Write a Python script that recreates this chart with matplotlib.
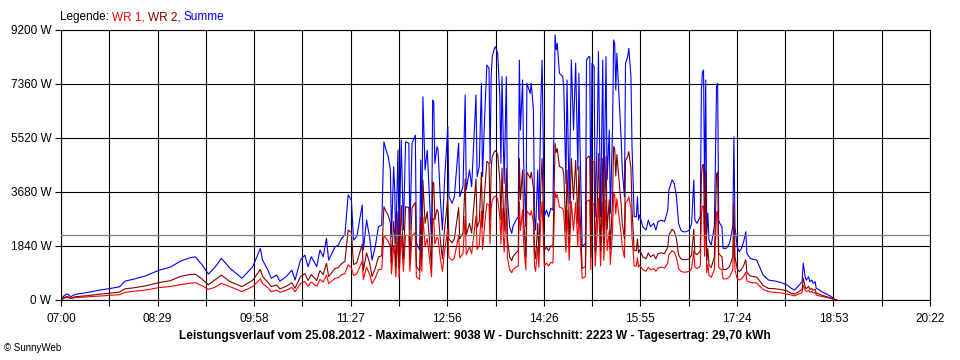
import numpy as np
import matplotlib.pyplot as plt

plt.rcParams['font.family'] = ['Liberation Sans', 'DejaVu Sans']

# minutes after 07:00
minutes = [0, 3, 6, 9, 13, 25, 36, 45, 54, 59,
           68, 78, 90, 101, 110, 119, 124, 130, 136, 142,
           148, 156, 167, 177, 184, 186, 191, 194, 199, 202,
           208, 213, 216, 221, 225, 228, 231, 236, 239, 242,
           245, 247, 253, 256, 259, 262, 265, 268, 270, 273,
           278, 279, 282, 285, 287, 290, 293, 296, 298, 300,
           302, 304, 305, 307, 308, 309, 311, 312, 314, 316,
           318, 321, 322, 324, 327, 328, 331, 332, 333, 334,
           336, 338, 340, 342, 343, 344, 345, 347, 348, 350,
           352, 354, 357, 358, 361, 363, 365, 367, 368, 371,
           373, 374, 377, 379, 381, 383, 384, 386, 388, 389,
           391, 393, 395, 396, 397, 398, 400, 401, 403, 405,
           406, 407, 409, 411, 412, 414, 416, 417, 420, 422,
           423, 424, 426, 427, 429, 430, 431, 433, 434, 436,
           437, 438, 440, 441, 443, 444, 446, 448, 450, 452,
           454, 456, 457, 458, 460, 463, 464, 466, 467, 469,
           471, 473, 475, 477, 478, 479, 481, 484, 485, 487,
           488, 489, 490, 492, 493, 495, 496, 498, 500, 501,
           503, 504, 506, 507, 509, 510, 511, 512, 513, 515,
           517, 518, 520, 521, 523, 524, 526, 527, 529, 531,
           532, 533, 534, 537, 540, 542, 544, 547, 549, 551,
           554, 557, 560, 561, 564, 566, 568, 570, 572, 574,
           577, 580, 582, 584, 585, 587, 590, 591, 592, 593,
           594, 595, 596, 597, 598, 600, 603, 605, 606, 607,
           608, 610, 611, 614, 617, 620, 621, 622, 624, 626,
           628, 630, 632, 633, 636, 639, 642, 644, 648, 653,
           659, 665, 670, 674, 677, 680, 684, 685, 687, 688,
           690, 691, 693, 694, 696, 697, 700, 702, 705, 710,
           713, 714, 716]

# WR 1 in W
wr1 = [10, 60, 90, 50, 80, 110, 140, 160, 180, 260,
       300, 340, 420, 460, 520, 570, 590, 490, 365, 430,
       570, 455, 285, 460, 720, 560, 420, 280, 340, 260,
       330, 430, 280, 560, 630, 470, 610, 470, 700, 610,
       850, 560, 740, 760, 860, 900, 1200, 1100, 840, 890,
       1330, 700, 1120, 860, 560, 740, 1030, 1050, 2210, 2100,
       2000, 1820, 890, 1860, 1540, 790, 2100, 740, 2230, 980,
       2210, 2190, 980, 2190, 2300, 790, 700, 1960, 980, 2840,
       1820, 2100, 1440, 790, 2790, 2770, 1910, 2140, 2100, 1440,
       980, 1680, 2420, 1440, 1350, 1440, 1820, 2190, 1440, 1580,
       2860, 1540, 1820, 1580, 2230, 2860, 1720, 1860, 3030, 1720,
       2560, 3280, 3240, 1910, 3120, 3400, 3520, 3540, 3450, 2840,
       1910, 3120, 1630, 3120, 1440, 1030, 930, 1030, 1120, 1160,
       3350, 2370, 3070, 1910, 1030, 3030, 2980, 2890, 3030, 2650,
       1160, 980, 1820, 1120, 2840, 3350, 1160, 1260, 1160, 1280,
       1260, 3700, 3490, 3590, 3170, 3120, 2980, 1630, 3070, 1350,
       3350, 2370, 3310, 1820, 3170, 2140, 740, 790, 3350, 3400,
       3400, 1030, 3310, 3260, 1160, 2370, 3470, 1160, 3350, 1350,
       3400, 1680, 2370, 1210, 2370, 3630, 3590, 2930, 3450, 2840,
       2230, 1820, 1440, 3310, 3400, 3520, 3120, 2140, 1160, 1160,
       1440, 1120, 1190, 1030, 980, 1120, 1030, 1070, 980, 1090,
       1120, 1090, 1260, 1540, 1680, 1630, 1440, 1070, 980, 950,
       950, 980, 1070, 1680, 1120, 1070, 1160, 2930, 3190, 3210,
       1490, 3070, 930, 1210, 840, 770, 1030, 2980, 3030, 1120,
       1070, 1030, 720, 720, 790, 1030, 2280, 1030, 740, 680,
       720, 810, 950, 650, 600, 590, 580, 500, 360, 285,
       260, 240, 200, 170, 140, 190, 260, 500, 320, 290,
       330, 260, 290, 240, 260, 170, 140, 120, 100, 60,
       25, 10, 0]

# WR 2 in W
wr2 = [20, 90, 120, 60, 110, 150, 200, 230, 270, 380,
       420, 480, 590, 660, 800, 870, 880, 720, 520, 680,
       850, 625, 455, 675, 1040, 800, 600, 460, 510, 380,
       470, 590, 400, 800, 900, 665, 865, 665, 1000, 865,
       1250, 800, 1075, 1110, 1240, 1315, 2380, 2300, 1205, 1270,
       1910, 1000, 1605, 1240, 800, 1075, 1470, 1505, 3180, 3010,
       2880, 2610, 1270, 2680, 2210, 1140, 3010, 1075, 3220, 1405,
       3180, 3150, 1405, 3150, 3320, 1140, 1000, 2810, 1405, 4085,
       2610, 3010, 2080, 1140, 4025, 3985, 2745, 3085, 3010, 2080,
       1405, 2410, 3485, 2080, 1945, 2080, 2610, 3150, 2080, 2280,
       4125, 2210, 2610, 2280, 3220, 4125, 2480, 2680, 4355, 2480,
       3685, 4725, 4655, 2745, 4490, 4890, 5055, 5090, 4955, 4085,
       2745, 4490, 2345, 4490, 2080, 1470, 1340, 1470, 1605, 1680,
       4825, 3420, 4425, 2745, 1470, 4355, 4290, 4150, 4355, 3825,
       1680, 1405, 2610, 1605, 4085, 4825, 1680, 1805, 1680, 1845,
       1805, 5338, 5030, 5155, 4555, 4490, 4290, 2345, 4425, 1945,
       4825, 3420, 4755, 2610, 4555, 3085, 1075, 1140, 4825, 4890,
       4890, 1470, 4755, 4690, 1680, 3420, 4990, 1680, 4825, 1945,
       4890, 2410, 3420, 1745, 3420, 5230, 5155, 4225, 4955, 4085,
       3220, 2610, 2080, 4755, 4890, 5055, 4490, 3085, 1680, 1680,
       2080, 1605, 1705, 1470, 1405, 1605, 1470, 1540, 1405, 1580,
       1605, 1580, 1805, 2210, 2410, 2345, 2080, 1540, 1405, 1375,
       1375, 1405, 1540, 2410, 1605, 1540, 1680, 4225, 4590, 4625,
       2145, 4425, 1340, 1745, 1205, 1100, 1470, 4290, 4355, 1605,
       1540, 1470, 1040, 1040, 1140, 1470, 3285, 1470, 1075, 965,
       1040, 1175, 1375, 940, 820, 795, 780, 690, 490, 395,
       385, 350, 310, 230, 200, 265, 365, 750, 420, 390,
       465, 365, 390, 330, 365, 230, 200, 165, 130, 76,
       30, 10, 0]

summe = np.array(wr1) + np.array(wr2)

average = 2223
span = 802  # 07:00 .. 20:22 in minutes
x_labels = ['07:00', '08:29', '09:58', '11:27', '12:56',
            '14:26', '15:55', '17:24', '18:53', '20:22']
y_ticks = [0, 1840, 3680, 5520, 7360, 9200]
y_labels = ['0 W', '1840 W', '3680 W', '5520 W', '7360 W', '9200 W']
legend_parts = [('Legende: ', 'black'), ('WR 1, ', '#ff0000'),
                ('WR 2, ', '#800000'), ('Summe', '#0000ff')]
title = ('Leistungsverlauf vom 25.08.2012 - Maximalwert: 9038 W - '
         'Durchschnitt: 2223 W - Tagesertrag: 29,70 kWh')

fig = plt.figure(figsize=(9.6, 3.6), dpi=100)
ax = fig.add_axes((61 / 960, 60 / 360, 869 / 960, 270 / 360))

ax.plot(minutes, summe, color='#0000ff', lw=0.8)
ax.plot(minutes, wr1, color='#ff0000', lw=0.8)
ax.plot(minutes, wr2, color='#800000', lw=0.8)
ax.axhline(average, color='#808080', lw=0.9, zorder=3)

ax.set_xlim(0, span)
ax.set_ylim(0, 9200)
ax.set_xticks(np.linspace(0, span, len(x_labels)))
ax.set_xticklabels(x_labels)
ax.set_xticks(np.linspace(0, span, 2 * len(x_labels) - 1), minor=True)
ax.set_yticks(y_ticks)
ax.set_yticklabels(y_labels)
ax.grid(which='both', color='black', lw=0.8)
ax.set_axisbelow(True)
ax.tick_params(which='both', direction='out', length=4, width=0.8,
               labelsize=8.5, colors='black')
ax.tick_params(axis='x', pad=5)
ax.tick_params(axis='y', pad=3)
for s in ax.spines.values():
    s.set_linewidth(0.8)

# coloured legend line at the top, pieces placed one after another
renderer = fig.canvas.get_renderer()
x_px = 60
for txt, col in legend_parts:
    t = fig.text(x_px / 960, 1 - 17 / 360, txt, fontsize=8.5, va='center', color=col)
    x_px += t.get_window_extent(renderer).width

fig.text(475 / 960, 1 - 336 / 360, title, fontsize=8.6, fontweight='bold',
         ha='center', va='center')
fig.text(4 / 960, 1 - 348 / 360, '\u00a9 SunnyWeb', fontsize=7, va='center')

fig.savefig('out.png', dpi=100)
